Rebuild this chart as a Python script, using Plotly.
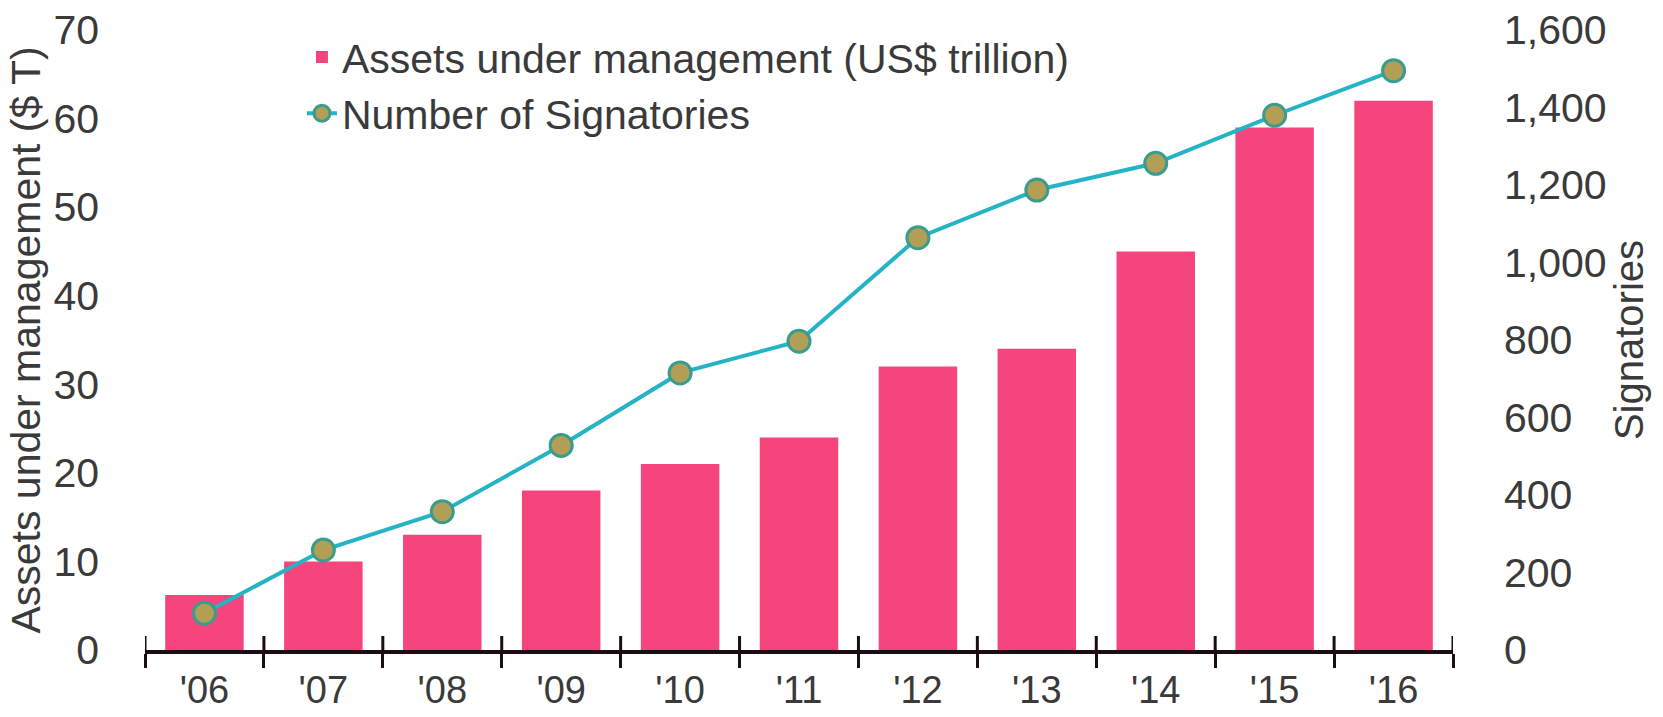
import plotly.graph_objects as go

years = ["'06", "'07", "'08", "'09", "'10", "'11", "'12", "'13", "'14", "'15", "'16"]
aum = [6.2, 10, 13, 18, 21, 24, 32, 34, 45, 59, 62]
signatories = [95, 258, 357, 528, 715, 797, 1064, 1187, 1256, 1380, 1495]
left_ticks = [0, 10, 20, 30, 40, 50, 60, 70]
right_ticks = [0, 200, 400, 600, 800, 1000, 1200, 1400, 1600]

FONT = "Liberation Sans, Arial, sans-serif"
TXT = "#3a3a3a"
AXIS = "#1b0d12"

fig = go.Figure()
fig.add_trace(go.Bar(
    x=years, y=aum, name="Assets under management (US$ trillion)",
    marker=dict(color="#F6457C", line=dict(width=0)),
    xaxis="x", yaxis="y",
))
fig.add_trace(go.Scatter(
    x=years, y=signatories, name="Number of Signatories",
    mode="lines+markers",
    line=dict(color="#25B3C6", width=4),
    marker=dict(size=22, color="#B29F55", line=dict(color="#3A9C8E", width=3)),
    xaxis="x", yaxis="y2",
))

xrange = [-0.5, len(years) - 0.5]

# upper halves of the category-boundary tick marks (axis decoration, the lower
# halves come from the axis' own outside ticks)
for i in range(len(years) + 1):
    fig.add_shape(
        type="line", xref="x", yref="paper", ysizemode="pixel", yanchor=0,
        x0=i - 0.5, x1=i - 0.5, y0=0, y1=14,
        line=dict(color=AXIS, width=3), layer="above",
    )

fig.update_layout(
    width=1663, height=717,
    margin=dict(l=145, r=210, t=30, b=67),
    paper_bgcolor="white", plot_bgcolor="white",
    font=dict(family=FONT, size=41, color=TXT),
    bargap=0.34,
    showlegend=True,
    legend=dict(
        x=0.12, y=1.01, xanchor="left", yanchor="top",
        bgcolor="rgba(0,0,0,0)", font=dict(size=41, color=TXT),
        itemwidth=30, tracegroupgap=0,
    ),
    xaxis=dict(
        type="category", categoryorder="array", categoryarray=years,
        range=xrange, autorange=False,
        showgrid=False, zeroline=False, automargin=False,
        showline=True, linecolor=AXIS, linewidth=4,
        ticks="outside", tickson="boundaries", ticklen=14, tickwidth=3, tickcolor=AXIS,
        tickfont=dict(size=38, color=TXT), ticklabelstandoff=3,
        anchor="y", layer="above traces",
    ),
    yaxis=dict(
        range=[0, 70], tickvals=left_ticks, showgrid=False, zeroline=False,
        showline=False, ticks="", ticklabelstandoff=45, automargin=False,
        tickfont=dict(size=41, color=TXT),
        title=dict(text="Assets under management ($ T)", standoff=0,
                   font=dict(size=41, color=TXT)),
    ),
    yaxis2=dict(
        range=[0, 1600], tickvals=right_ticks, tickformat=",d",
        overlaying="y", side="right", anchor="x", automargin=False,
        showgrid=False, zeroline=False, showline=False, ticks="", ticklabelstandoff=50,
        tickfont=dict(size=41, color=TXT),
        title=dict(text="Signatories", standoff=8, font=dict(size=40, color=TXT)),
    ),
)

fig.write_html("out.html")
